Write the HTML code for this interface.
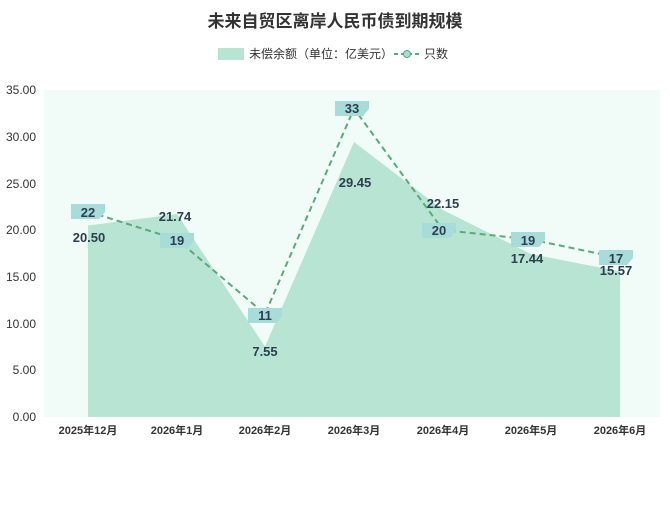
<!DOCTYPE html>
<html><head><meta charset="utf-8"><style>
body{margin:0;background:#fff;}
svg text{font-family:"Liberation Sans","Noto Sans CJK SC",sans-serif;}
</style></head><body>
<svg width="670" height="502" xmlns="http://www.w3.org/2000/svg">
<text x="335" y="27" text-anchor="middle" font-size="17" font-weight="bold" fill="#333">未来自贸区离岸人民币债到期规模</text>
<rect x="218" y="48" width="26" height="12" fill="#b8e4d4"/>
<text x="249" y="58" font-size="12" fill="#333">未偿余额（单位：亿美元）</text>
<line x1="394" y1="54" x2="420" y2="54" stroke="#5aaa7a" stroke-width="2" stroke-dasharray="4,3"/>
<circle cx="407" cy="54" r="3.5" fill="#a8dcd9" stroke="#5aaa7a"/>
<text x="424" y="58" font-size="12" fill="#333">只数</text>
<rect x="44" y="90" width="616" height="327" fill="#f1fbf8"/>
<g font-size="12" fill="#333" text-anchor="end">
<text x="36" y="94">35.00</text><text x="36" y="141">30.00</text><text x="36" y="188">25.00</text><text x="36" y="234">20.00</text><text x="36" y="281">15.00</text><text x="36" y="328">10.00</text><text x="36" y="374">5.00</text><text x="36" y="421">0.00</text>
</g>
<polygon fill="#b8e4d4" points="88,417 88,225.5 177,214 265,346.5 354,142 443,210 531,254 620,271.5 620,417"/>
<polyline fill="none" stroke="#5aaa7a" stroke-width="2" stroke-dasharray="6,4" points="88,211.5 177,239.5 265,314 354,108.5 443,230 531,239.5 620,258"/>
<g fill="#a8dcd9">
<polygon points="71,204 105,204 105,212 99,219 71,219"/>
<polygon points="160,233 194,233 194,241 188,248 160,248"/>
<polygon points="248,308 282,308 282,316 276,323 248,323"/>
<polygon points="335,101 369,101 369,109 363,116 335,116"/>
<polygon points="422,223 456,223 456,231 450,238 422,238"/>
<polygon points="511,232 545,232 545,240 539,247 511,247"/>
<polygon points="599,250 633,250 633,258 627,265 599,265"/>
</g>
<g font-size="13" font-weight="bold" fill="#2c3e50" text-anchor="middle">
<text x="88" y="217">22</text><text x="177" y="245">19</text><text x="265" y="320">11</text><text x="352" y="113">33</text><text x="439" y="235">20</text><text x="528" y="245">19</text><text x="616" y="263">17</text>
<text x="89" y="242">20.50</text><text x="175" y="221">21.74</text><text x="265" y="356">7.55</text><text x="355" y="187">29.45</text><text x="443" y="208">22.15</text><text x="527" y="263">17.44</text><text x="616" y="275">15.57</text>
</g>
<g font-size="11" font-weight="bold" fill="#333" text-anchor="middle">
<text x="88" y="434">2025年12月</text><text x="177" y="434">2026年1月</text><text x="265" y="434">2026年2月</text><text x="354" y="434">2026年3月</text><text x="443" y="434">2026年4月</text><text x="531" y="434">2026年5月</text><text x="620" y="434">2026年6月</text>
</g>
</svg>
</body></html>
